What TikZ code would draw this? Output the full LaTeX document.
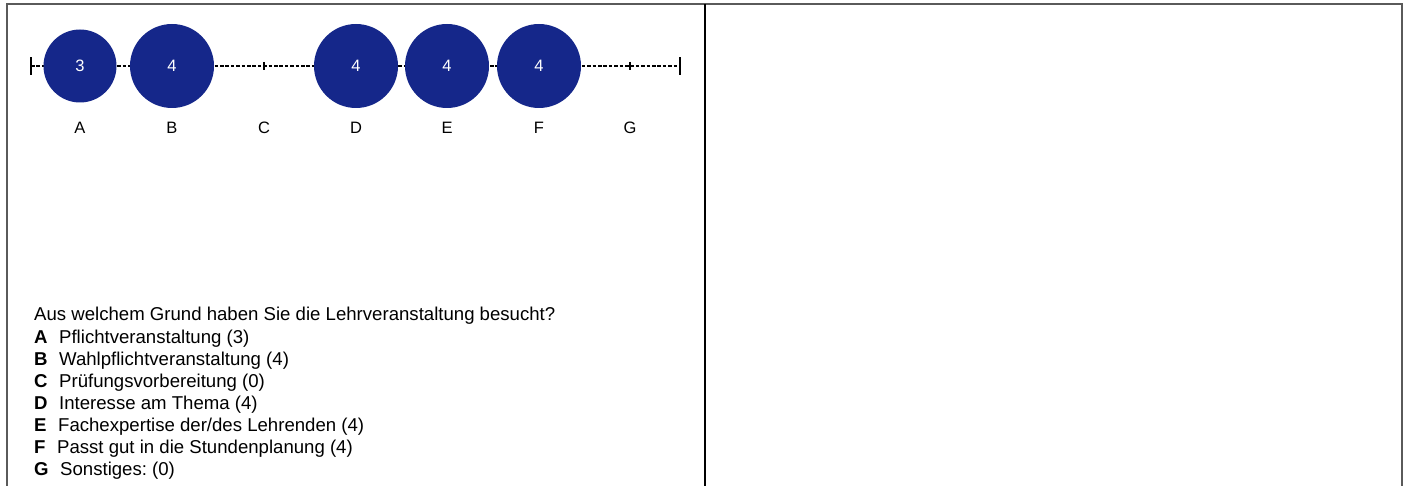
\documentclass[tikz,border=0pt]{standalone}
\usepackage{fontspec}
\setmainfont{Liberation Sans}
\frenchspacing
\definecolor{voteblue}{RGB}{21,39,138}
\definecolor{framegray}{RGB}{90,90,90}

\begin{document}
\begin{tikzpicture}[x=1pt, y=-1pt,
  vote/.style={circle, fill=voteblue, text=white, inner sep=0pt, font=\fontsize{16.5}{19}\selectfont},
  cat/.style={font=\fontsize{16.5}{19}\selectfont},
  scaleline/.style={line width=2pt, dash pattern=on 3.6pt off 1.8pt},
  scaletick/.style={line width=2.6pt},
  legend/.style={anchor=base west, inner sep=0pt, font=\fontsize{18.6}{22}\selectfont}]
\useasboundingbox (0,0) rectangle (1406,486);
\draw[framegray, line width=2pt] (7,486) -- (7,4) -- (1402,4) -- (1402,486);
\draw[line width=1.4pt] (705,4) -- (705,486);
\coordinate (axL) at (31,66);
\coordinate (axR) at (680,66);
\draw[scaleline] (axL) -- (axR);
\draw[scaletick] ([yshift=-9pt]axL) -- ([yshift=9pt]axL);
\draw[scaletick] ([yshift=-9pt]axR) -- ([yshift=9pt]axR);
\foreach \x/\l in {80/A, 172/B, 264/C, 356/D, 447/E, 539/F, 630/G}{
  \draw[scaletick] (\x,62) -- (\x,70);
  \node[cat] (l\l) at (\x,128) {\l};
}
\foreach \x/\l/\n/\d in {80/A/3/73, 172/B/4/84, 356/D/4/84, 447/E/4/84, 539/F/4/84}
  \node[vote, minimum size=\d pt] (c\l) at (\x,66) {\n};
\node[legend] (q) at (34,321) {Aus welchem Grund haben Sie die Lehrveranstaltung besucht?};
\foreach \l/\t [count=\i] in {A/{Pflichtveranstaltung (3)}, B/{Wahlpflichtveranstaltung (4)},
  C/{Prüfungsvorbereitung (0)}, D/{Interesse am Thema (4)}, E/{Fachexpertise der/des Lehrenden (4)},
  F/{Passt gut in die Stundenplanung (4)}, G/{Sonstiges: (0)}}
  \node[legend] (t\l) at (34,{321+22.1*\i}) {\textbf{\l}\hspace{0.62em}\t};
\end{tikzpicture}
\end{document}
